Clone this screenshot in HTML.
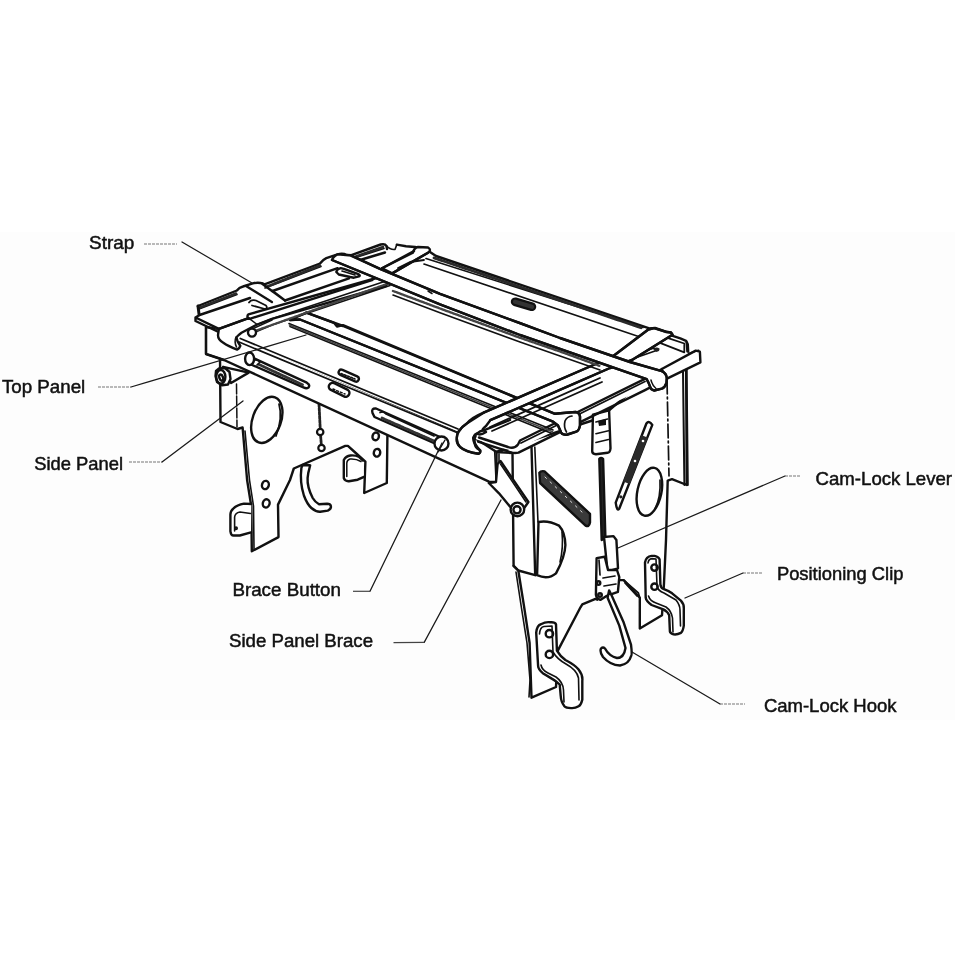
<!DOCTYPE html>
<html><head><meta charset="utf-8">
<style>
html,body{margin:0;padding:0;background:#fff;}
body{width:955px;height:955px;overflow:hidden;position:relative;}
.band{position:absolute;left:0;top:232px;width:955px;height:488px;background:#fdfdfd;}
svg{position:absolute;left:0;top:0;will-change:transform;}
text{font-family:"Liberation Sans",sans-serif;font-size:18.5px;fill:#111;stroke:#111;stroke-width:0.5px;}
</style></head>
<body>
<div class="band"></div>
<svg width="955" height="955" viewBox="0 0 955 955">
<g fill="none" stroke="#111" stroke-width="2.4" stroke-linejoin="round" stroke-linecap="round">
<!-- ================= RIGHT SIDE PANEL ================= -->
<path fill="#fff" d="M496,452 L600,418 L686,345 L686.8,485 L672,479.2 L667.7,480.6 L666,540 L664,583 L662,615.3 L639.8,628.5 L639.8,597.7 L638.4,596.2 L623.7,580.1 L619.3,580.1 L606,590 L597.3,599.8 L595.5,598.8 L582.3,604.4 L580.5,607.3 L557.8,650.6 L556,687 L531.5,697.7 L529.6,643 L523.9,605.4 L518.3,570.5 L513.6,565.8 L512.5,453 Z"/>
<path d="M531.5,447 L535.2,575.2 M513.6,565.8 L518.3,570.5 L535.2,575.2"/>
<path d="M534.8,447 L538,522" stroke-width="1.6"/>
<path d="M516,572 L521,605 L527,643 L530,680 L529,697" stroke-width="1.6"/>
<!-- D hole -->
<path d="M538.5,522 Q548,520 559,525.6 Q565,532 565.4,545 Q565,557 556,573.3 Q548,580 537.1,575.2 Z"/>
<path d="M562,532 Q563.5,548 560,562" stroke-width="1.6"/>
<!-- front-right diagonal slot -->
<path fill="#3a3a3a" d="M539.4,472.8 Q541,470.5 544.5,471.3 L590,513.8 L590,522.6 Q589,527.5 585.6,525.6 L540.1,483 Z"/>
<path d="M545,477 L584,514" stroke="#ddd" stroke-width="1" stroke-dasharray="2 5"/>
<!-- label plate -->
<path fill="#fff" d="M592.9,414.7 L609.1,410.3 L610.5,448.4 Q610,452.8 607.6,452.8 L595.9,454.2 Q592.2,454 592.2,451.3 Z"/>
<path d="M595.9,422 L607.6,419.1 M595.9,433.7 L608.5,430.8 M595.9,442.5 L608.5,439.6" stroke-width="1.5"/>
<path fill="#111" stroke="none" d="M598,421 L606,419 L606,425 L599,426 Z"/>
<!-- right-rear diagonal slot -->
<path fill="#fff" d="M646.4,423.5 Q649,420 652.3,424.9 L619.3,508.5 Q617,512 615.7,502.6 Z"/>
<path fill="#2a2a2a" stroke="none" d="M641.3,435.1 L647.9,437.7 L629.7,484 L623.1,481.4 Z"/>
<circle cx="643" cy="441" r="1.3" fill="#fff" stroke="none"/>
<circle cx="635" cy="461" r="1.3" fill="#fff" stroke="none"/>
<circle cx="620.8" cy="496.8" r="1.6" fill="#222" stroke="none"/>
<!-- oval hole right rear -->
<ellipse cx="649.4" cy="491.8" rx="12" ry="24.4" transform="rotate(12 649.4 491.8)"/>
<path d="M660,480 Q661,497 655,509" stroke-width="1.7"/>
<!-- front clip (right panel) -->
<path fill="#fff" d="M536.2,632.7 Q537,625 540.9,624.2 Q546,621.5 550.3,622.3 Q555,622 556,624.2 L556.9,650.6 Q560,656 565.4,660 Q575,665 578.6,669.5 Q583,675 582.3,680.8 L582.3,699.6 Q581,705 578.6,706.2 Q575,708.5 571,708.1 Q566,708 564.4,706.2 Q561,702 560.7,695.8 L559.7,684.5 Q556,681 552.2,678.9 L542.8,673.2 Q538,669 538.1,665.7 Z"/>
<path d="M539.5,634 Q540,627 544,626.5 L552,626 L553,652 Q557,659 566,664 Q577,670 578.5,678 L579,700 M541,665 Q542,670 548,673 L556,677 Q563,682 563.5,690 L564,702" stroke-width="1.6"/>
<circle cx="549.4" cy="633.7" r="3.7"/>
<circle cx="549.4" cy="654.4" r="3.7"/>
<!-- back clip (right panel) -->
<path fill="#fff" d="M645,562.5 Q646,556.5 651.6,555.9 L654.5,555.9 Q659,557 659.6,559.6 L660.4,584.5 Q661,588 663.3,588.9 Q669,591 672.1,593.3 L680.9,600.6 Q684,604 683.8,608 L683.8,625.6 Q683,631 680.9,632.9 Q677,635 673.6,634.4 Q670,633 669.9,631.4 L669.2,615.3 Q667,611 663.3,609.4 L651.6,605 Q646,601 645.7,597.7 Z"/>
<path d="M648,563 Q648.5,559 652,558.6 L656,559 L657,586 Q658,591 664,593 L676,600 Q680,605 680,610 L680.5,626 M648.5,596 Q650,601 656,603 L666,607 Q671.5,611 672.5,618 L673,632" stroke-width="1.6"/>
<circle cx="654.5" cy="567.6" r="3.2"/>
<circle cx="654.5" cy="586.7" r="3.2"/>
<!-- back foot edge -->
<path d="M623.7,580.1 L638.4,593 L639.8,597.7 M625,583 L637,596" stroke-width="1.7"/>
<!-- cam lock rod -->
<path fill="#222" d="M599.3,458.8 Q601,457 603.1,458.9 L605.4,538 L601.7,540 Z"/>
<!-- ================= LEFT SIDE PANEL ================= -->
<path fill="#fff" d="M220,355 L220.5,422 L237.5,429 L242.6,427.5 L247.1,480 L251.3,506.2 L251.8,551.2 L278.5,537.1 L278,504.6 L290,480 L293.8,468.5 L345.3,445.9 L347.9,445.9 L354.1,451.5 L365.4,461.6 L364.2,493 L386.8,483 L387.4,436.4 L387.4,410 L260,352 Z"/>
<path d="M236.5,384 L237,427" stroke-width="1.5" stroke-dasharray="10 2"/>
<path d="M245,431 L249.5,480 L253.5,506 L254,549" stroke-width="1.6"/>
<ellipse cx="266.8" cy="419.9" rx="14.2" ry="24" transform="rotate(20 266.8 419.9)"/>
<path d="M279,404 Q283,418 276,436" stroke-width="1.8"/>
<ellipse cx="265.4" cy="485" rx="3.4" ry="4.2" transform="rotate(15 265.4 485)"/>
<ellipse cx="266.2" cy="503.4" rx="3.4" ry="4.2" transform="rotate(15 266.2 503.4)"/>
<ellipse cx="375.7" cy="436.4" rx="3.2" ry="3.9" transform="rotate(15 375.7 436.4)"/>
<ellipse cx="377" cy="452.8" rx="3.2" ry="3.9" transform="rotate(15 377 452.8)"/>
<!-- left front clip -->
<path fill="#fff" d="M251.3,504 L244,503.6 Q237,505 233.5,508.3 Q230.4,511 230.4,514.6 L230.4,531.3 Q231,535.5 233.5,535.5 L239.8,535.5 L251,532.4"/>
<path d="M250.5,513.5 L240,512 Q235,513 234.6,517 L234.6,531" stroke-width="1.6"/>
<circle cx="236" cy="528.3" r="0.8" fill="#111"/>
<!-- back clip (left panel) -->
<path fill="#fff" d="M363,460.5 L359.2,457 Q355,455 350.4,455.5 Q346,456 343.8,460 L343.8,478.2 Q345,481.5 348.9,481.2 L357.7,479.7 L364,476.8"/>
<path d="M361,461.5 Q356,458.5 350,459 Q347,460 346.8,463 L346.8,476.5" stroke-width="1.5"/>
<!-- chain/latch -->
<path d="M319,403.8 L320.2,428.5 M320.6,435.5 L321.3,444.5" stroke-width="2.8" stroke="#222" stroke-dasharray="3 1"/>
<circle cx="320.2" cy="432" r="3.2" stroke-width="2.2"/>
<circle cx="321.5" cy="448" r="3.2" stroke-width="2.2"/>
<!-- left cam hook -->
<path fill="#fff" d="M302.6,465 L301.4,467.9 Q299.6,482 303.9,495.5 Q307,504 311.4,508 Q316,512 320.2,511.8 L327.8,510.6 Q331.5,509 330.9,506 Q330.3,503.7 327.1,503.7 L319,504.3 Q315,502 312.7,498 Q307,487 307.6,478 L308.3,472.9 L310.2,465.3 Z"/>
<!-- ================= FRONT APRON ================= -->
<path fill="#fff" d="M206,327 L206,354 L224,360 L489,481.6 L496.5,482 L496.5,452 L478,440 L240,338 L219,329 Z"/>
<path d="M206,327 L206,354 L224,360" stroke-width="2.2"/>
<path d="M494.7,451.5 L496.1,481.6 M499,453.7 L499,468.4" stroke-width="1.6"/>
<!-- left long slot with button -->
<path fill="#fff" d="M252,357.5 L306.8,382.7 Q310.5,385 308.5,387.5 Q306.5,388.8 304,387.7 L251,364.5 Z"/>
<path d="M259,364.5 L303,385" stroke-width="2.8" stroke="#333" stroke-dasharray="2.5 1"/>
<ellipse cx="249.6" cy="358.8" rx="4.5" ry="6.3" fill="#fff"/>
<path d="M255,360 Q258,359 260,362 L257,365" stroke-width="1.7"/>
<!-- right long slot -->
<path fill="#fff" d="M376,408.5 Q371,408 372.5,413 L374.5,417 L436,444 L440,437 Z"/>
<path d="M380,412.5 Q384,411 386,414 L434,436" stroke-width="1.7"/>
<path d="M382,418 L434,441" stroke-width="2.8" stroke="#333" stroke-dasharray="2.5 1"/>
<circle cx="441.5" cy="443.5" r="7" fill="#fff"/>
<path d="M445,440 L438,452" stroke-width="1.4"/>
<!-- small slots -->
<rect x="328" y="386" width="22" height="7.5" rx="3.7" transform="rotate(26 339 390)" fill="#fff"/>
<path d="M333,389 L345,394" stroke-width="1.4" stroke-dasharray="2 2"/>
<!-- left knob + cylinder -->
<path fill="#fff" d="M223.1,366.8 L248.7,372.6 L231,383 Z"/>
<path fill="#fff" d="M216,371 L219,368.5 L225,368 L229.5,372 L230.5,379 L228,384.5 L222,385.3 L217,382 L215.5,376 Z"/>
<ellipse cx="220.8" cy="376.8" rx="4.6" ry="6.8"/>
<ellipse cx="221.2" cy="377.6" rx="1.8" ry="3.2" transform="rotate(-20 221.2 377.6)"/>
<!-- ================= TOP FRAME ================= -->
<path fill="#fff" stroke="none" d="M195,317 L198,305 L385,244 L397,244.6 L686,340 L699,351 L700,363 L581,418 L519.6,448 L506,449.3 L478,440 L240,340 L219,330 Z"/>
<!-- left lip -->
<path d="M198,306 L236.9,290.5 Q239,287.5 243,286.5 L252.8,283.4 Q258,282 262.9,283.5 L264.5,284.3 L320,263.5 Q322.5,260 326.3,258.2 L337.6,254.4 Q342.6,253 347,255 L351.4,255.2 L380.7,244.5 Q385,243.5 386.4,245.8 L387,249"/>
<path d="M199,309 L237,294.5 M265,288 L321,266.5 M355,257.8 L384,248.5" stroke-width="1.6"/>
<path d="M200,307.5 L236,293.5 M266,287 L320,265.5 M356,256.5 L383,247" stroke-width="2.6" stroke-dasharray="3 0.8" stroke="#2a2a2a"/>
<path d="M198,306 L199,314" stroke-width="3"/>
<path d="M199.5,315 L250,298 M272.5,291 L337.6,268.2 M360,260 L385,252.5"/>
<!-- plate left -->
<path d="M199.5,315 L195.5,317.5 L218.9,328.9 M195.5,317.5 L195.5,321 L217.5,331.5"/>
<!-- strap B loop over left lip -->
<path d="M246,286 L271.9,302 M262.5,284 L285,300.5 M272.5,291 L285,300.5"/>
<path d="M249,302.5 Q251,299 256,300.5 L266,305.5 Q268,308 265,309 L252,305.5" stroke-width="1.8"/>
<!-- d line -->
<path d="M285,300.5 L349,278.3"/>
<!-- back lip -->
<path d="M396.8,244.6 L406,246.2 L415,247 L423,248.8 L430,252 L436,256 L649.3,328.4 L655,328 L666,331.7 L672.7,335.9 L680.3,338.4 L686.1,340.9 L687.8,344.3 L688.2,351.8"/>
<path d="M386.4,245.8 Q390,250 395,249.5 L396.8,244.6" stroke-width="1.6"/>
<path d="M426,258.6 L643,327.5 M424,264.1 L640,337" stroke-width="1.6"/>
<path d="M434,257.9 L641,327.7" stroke-width="2.8" stroke-dasharray="3 0.8" stroke="#2a2a2a"/>
<!-- right end plate & flange -->
<path d="M479,437.5 L508,447 Q514,449.5 518,444.5 L520,440.5 L645,378.8 L661.8,369 L695.7,350.6 L699.9,351.7 L700.4,362.3 L667,378.7 L645,390.1 L518.5,452.6 Q515,453.5 511.7,452.6 L478,441.7"/>
<path d="M521,443 L645,381.5" stroke-width="1.7"/>
<path d="M661.8,368.6 L666.9,377.8" stroke-width="1.5"/>
<path d="M688.6,353.5 L698.7,350.2" stroke-width="1.5"/>
<path d="M659.3,342.7 L684.3,352.3 M666.7,337.6 L684.3,343.5 L684.3,352.3" stroke-width="1.8"/>
<path fill="#222" stroke="none" d="M653,349 Q656,346.5 659.5,348.5 Q660,351.5 656,352 Z"/>
<path d="M630,356 L654,348 M632,359 L655,351" stroke-width="1.7"/>
<!-- STRAP B -->
<path fill="#fff" d="M306.4,312.6 L343,326 L555,413.8 L566,412.8 L575.7,412 Q580.5,413 580,418 L580,425.4 Q579,431 576.3,431.7 L567.5,434.5 Q561.5,435.5 560.5,431 L558,425.5 L553,421.6 L300,319.5 L290,320 Z"/>
<path d="M306.4,312.6 L334,322.8 L337,326.5 L343,325.2 L555,413.8 L566,412.8 L575.7,412 Q580.5,413 580,418 L580,425.4 Q579,431 576.3,431.7 L567.5,434.5 Q561.5,435.5 560.5,431 L558,425.5 L553,421.6 L300,319.5 L290,320"/>
<path d="M566.5,432 Q563.5,427 565,421 Q567,416.5 572,416" stroke-width="1.7"/>
<path d="M289,323.5 L553,430" stroke-width="1.6"/>
<path d="M290,326.5 L552,433.5" stroke-width="1.6"/>
<path d="M289.5,325 L552.5,431.8" stroke-width="1.6" stroke-dasharray="2.5 1" stroke="#444"/>
<!-- apron top (front edge) double line -->
<path d="M240.3,338.5 L458,429 M239,342 L458,433" stroke-width="1.7"/>
<!-- short strap L (left end) -->
<path fill="#fff" d="M218.9,328.9 L246.5,318.8 L249.7,318.8 L372,280.2 L382,268.2 L392.2,273.4 L386,286 L272,318.8 L257.2,324.5 L241.5,332.7 Q237,336 236.5,337.7 Q237,342 240.3,345.9 Q239.6,348.4 237.1,349.6 Q228,346 223.3,342.7 Q218,339.6 218,335.2 Z"/>
<path d="M218.9,328.9 L246.5,318.8"/>
<path d="M249.7,318.8 Q246,317 248.4,314.4 L380,277" />
<path d="M249.7,318.8 L257.2,324.5 L272,318.8 L386,281" stroke-width="1.5"/>
<path d="M251,329.5 L272,320.1 M251,334 L272,325.1 M272,325 L390,285.5" stroke-width="1.5"/>
<path d="M255,331 L388,283.5" stroke-width="2.2" stroke-dasharray="2.5 1" stroke="#444"/>
<path d="M236,337 Q234,342 236.5,347" stroke-width="1.6"/>
<circle cx="252" cy="332.6" r="4" fill="#fff"/>
<!-- short strap L right part over back lip -->
<path fill="#fff" d="M382,268.2 L412.9,252.7 Q414,248 418,247 L428,247.5 Q432,250 428,252.7 L392.2,273.4 Z"/>
<path d="M382,268.2 L414,251 M392.2,273.4 L428,252.7"/>
<path d="M398,268 L410,262 L424,260" stroke-width="1.8"/>
<!-- short strap R -->
<path fill="#fff" d="M483.6,412.7 L598,363 L612,357 L648.3,329.5 L654.2,328.1 L665.2,331.7 L671,332.5 L672.5,334.7 L632,360 L610,368 L490.3,420.2 L486,426 Q481,430 483.6,430.3 L486,432 Q480,436 476.9,433.6 Q472,438 473.5,438.6 Q474,444 480.2,450.4 Q480,454 478.5,453.7 Q465,452 460.1,447 Q456,443 456.8,438.6 Q457,433 459,431 Q461.5,427 466.8,423.5 Z"/>
<path d="M483.6,412.7 L598,363 L612,357 L648.3,329.5 L654.2,328.1 L665.2,331.7 L671,332.5 L672.5,334.7 L632,360 L610,368 L490.3,420.2"/>
<path d="M483.6,412.7 Q472,417.5 466.8,423.5 Q461.5,427 459,431 Q456.5,435 456.8,438.6 Q457,444 460.1,447 Q466,452 478.5,453.7 Q481,453 480.2,450.4 Q475,447 475.2,445.3 Q473,440 473.5,438.6 Q474,434 476.9,433.6 Q480,431 483.6,430.3 L510,420"/>
<path d="M476,436 Q473,441 477.5,449" stroke-width="1.6"/>
<path d="M490,427 L600,378 M492,431 L602,382" stroke-width="1.8"/>
<!-- STRAP A (topmost) -->
<path fill="#fff" d="M332,260 Q333,256.5 337.6,254.4 L351.4,255.5 L380,268.9 L440,293.8 L521,323.5 L560,338 L630,362 L661.8,371.2 Q666.5,373.5 666.8,378 L666.5,383 Q665,387.5 661.8,388.6 L654.2,390.5 Q651,390 650.5,387.6 L648.6,382.9 L646.7,379.2 L560,349 L520,335 L440,304.3 Z"/>
<path d="M351.4,255.8 L380,268.9 L440,293.8 L521,323.5 L560,338 L630,362 L661.8,371.2 Q666.5,373.5 666.8,378 L666.5,383 Q665,387.5 661.8,388.6 L654.2,390.5 Q651,390 650.5,387.6 L648.6,382.9 L646.7,379.2 L560,349 L520,335 L440,304.3 L332,260"/>
<path d="M651,380 Q652.5,386 656,388.5" stroke-width="1.5"/>
<path d="M428,291 L432,293.5" stroke-width="1.5"/>
<!-- top panel back hatched edge -->
<path d="M393,295 L440,312.7 L520,342 L560,356 L600,370" stroke-width="1.6"/>
<path d="M393,291 L440,308.5 L520,337.8 L560,351.5 L600,366" stroke-width="2.4" stroke-dasharray="2.5 1" stroke="#444"/>
<!-- buckle -->
<path fill="#fff" d="M336.3,272 Q337,269 340.7,268.2 L343.9,268.9 L357.7,273.9 Q361,275.5 359,276.4 L353.9,277.7 L350.2,277 L338.8,274.5 Z"/>
<path d="M342,271 L355,275" stroke-width="1.7"/>
<!-- small top slot -->
<rect x="338" y="372.8" width="21.5" height="5.4" rx="2.7" transform="rotate(24 348.5 375.5)" fill="#fff"/>
<path d="M341,373.5 L355,379" stroke-width="1.6" stroke-dasharray="2 1.5"/>
<rect x="511.5" y="301" width="24" height="6.5" rx="3.2" transform="rotate(16.5 523.5 304.3)" stroke-width="2.2" fill="#333"/>
<!-- right edges -->
<path d="M683,371 L684.4,485 M686.6,369.5 L687.8,485" stroke-width="2.0"/>
<path d="M686.5,342 L687.2,351.5" stroke-width="2.0"/>
<path d="M667,380 L669,476" stroke-width="1.7" stroke-dasharray="14 3 2 3"/>
</g>
<!-- ================= FRONT BRACE & LEVER (on top) ================= -->
<g fill="none" stroke="#111" stroke-width="2.4" stroke-linejoin="round" stroke-linecap="round">
<path fill="#fff" d="M497.6,464 L500.5,461 L528.4,502 L520,514 L513.7,511 L499,493.3 L488.8,483 L496,482 Z"/>
<path d="M500.5,464 L526,502" stroke-width="1.6"/>
<circle cx="517.4" cy="509.4" r="6.8" fill="#fff"/>
<circle cx="517" cy="509.8" r="3.6"/>
<!-- cam lock lever body -->
<path fill="#fff" d="M604,537 L613.5,536.1 L616.4,540 L618,568.4 L607.6,571.3 Z"/>
<path fill="#fff" d="M596.6,558.1 L604.7,556.7 L608,570 L617,570 L619.3,577.2 L617.9,591.8 L606.1,596.2 L600.3,599.9 Q596,598 595.9,594.8 Z"/>
<path d="M599,560 L600,575 M603,578 L615,576 M604,586 L616,584" stroke-width="1.7"/>
<circle cx="598.5" cy="583" r="1.8"/>
<circle cx="600" cy="595" r="1.8"/>
<!-- cam lock hook -->
<path fill="#fff" d="M609.1,590.4 L612,596.2 L623.7,622.6 L631,644.6 Q632.5,656 631,656.3 Q629,664 620,665.5 Q610,665 603,657 Q599.5,652 601,648.5 Q603,646.5 605,648.5 Q609,656 617,658 Q624,658 625.5,648 L619.3,625.6 L607.6,597.7 Z"/>
</g>
<!-- ===== LEADER LINES ===== -->
<g fill="none" stroke="#1a1a1a" stroke-width="1.3" stroke-linecap="round">
<path d="M182,242 L252,283"/>
<path d="M131,387 L306,335"/>
<path d="M162,462 L243,401"/>
<path d="M370,591.3 L442,443"/>
<path d="M424.2,642.4 L501,500"/>
<path d="M785,476 L618,548"/>
<path d="M743,573 L685,598"/>
<path d="M632,652 L720,704"/>
</g>
<g fill="none" stroke="#777" stroke-width="1.1" stroke-dasharray="3 1">
<path d="M144,244 L177,244"/>
<path d="M98,387 L131,387"/>
<path d="M129,462 L162,462"/>
<path d="M785,476 L800,476"/>
<path d="M743,573 L763,573"/>
<path d="M720,704 L745,704"/>
</g>
<g fill="none" stroke="#444" stroke-width="1.2">
<path d="M353,591.3 L370,591.3"/>
<path d="M393.5,642.6 L424.2,642.4"/>
</g>
<!-- ===== LABELS ===== -->
<text x="89" y="249" style="font-size:18.95px">Strap</text>
<text x="1.9" y="393.1" style="font-size:18.75px">Top Panel</text>
<text x="34.2" y="470.4" style="font-size:18.38px">Side Panel</text>
<text x="232.4" y="595.9" style="font-size:18.8px">Brace Button</text>
<text x="229" y="646.8" style="font-size:18.65px">Side Panel Brace</text>
<text x="815.6" y="484.9" style="font-size:18.6px">Cam-Lock Lever</text>
<text x="776.9" y="579.8" style="font-size:18.38px">Positioning Clip</text>
<text x="763.9" y="711.8" style="font-size:18.5px">Cam-Lock Hook</text>
</svg>
</body></html>
